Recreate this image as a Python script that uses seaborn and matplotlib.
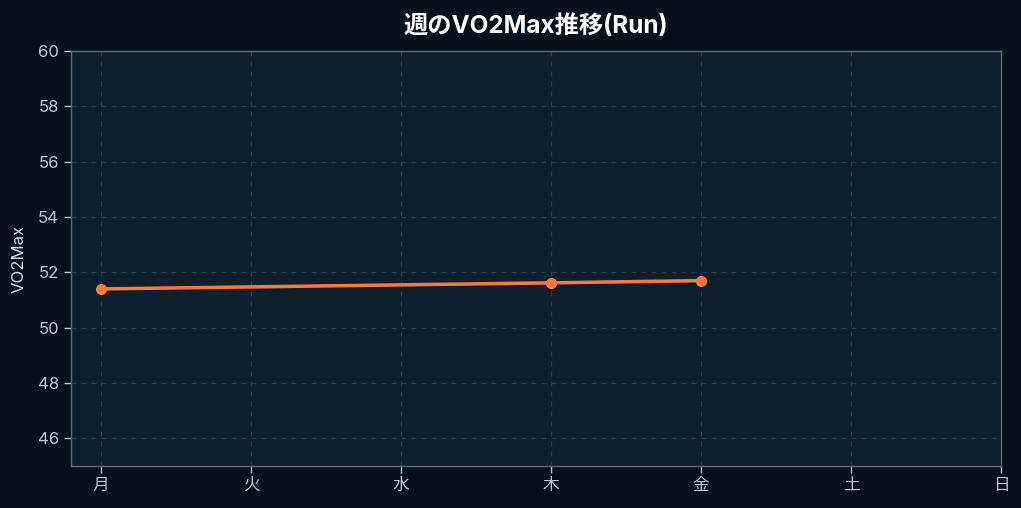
import numpy as np
import pandas as pd
import matplotlib
matplotlib.use("Agg")
import matplotlib.pyplot as plt
import seaborn as sns

days = ["月", "火", "水", "木", "金", "土", "日"]
vo2max = [51.4, np.nan, np.nan, 51.62, 51.7, np.nan, np.nan]

BG = "#07101a"
PANEL = "#0f1e2b"
LINE = "#ff7a3c"
TEXT = "#b9c8d4"

sns.set_theme(style="dark")
plt.rcParams["font.family"] = ["Inter", "Noto Sans CJK JP", "DejaVu Sans"]

df = pd.DataFrame({"day": days, "pos": range(len(days)), "vo2max": vo2max}).dropna()

fig, ax = plt.subplots(figsize=(10.21, 5.08), dpi=100)
fig.patch.set_facecolor(BG)
ax.set_facecolor(PANEL)

sns.lineplot(data=df, x="pos", y="vo2max", ax=ax, color=LINE, linewidth=2.5,
             marker="o", markersize=8, markeredgewidth=0, zorder=3)

ax.set_xlim(-0.2, 6)
ax.set_ylim(45, 60)
ax.set_xticks(range(len(days)))
ax.set_xticklabels(days)
ax.set_yticks(range(46, 61, 2))
ax.grid(True, color="#2a3b48", linestyle=(0, (4, 4)), linewidth=0.9)
ax.set_xlabel("")
ax.set_ylabel("VO2Max", color="#dce6ee", fontsize=12, labelpad=8)
ax.tick_params(colors=TEXT, labelsize=12, length=5, width=1, left=True, bottom=True)
for side in ax.spines.values():
    side.set_color("#5b6c79")
    side.set_linewidth(1)
ax.set_title("週のVO2Max推移(Run)", color="white", fontsize=17.5, fontweight="bold", pad=13)

fig.subplots_adjust(left=0.0695, right=0.9805, top=0.8996, bottom=0.0827)
fig.savefig("out.png", dpi=100, facecolor=BG)
